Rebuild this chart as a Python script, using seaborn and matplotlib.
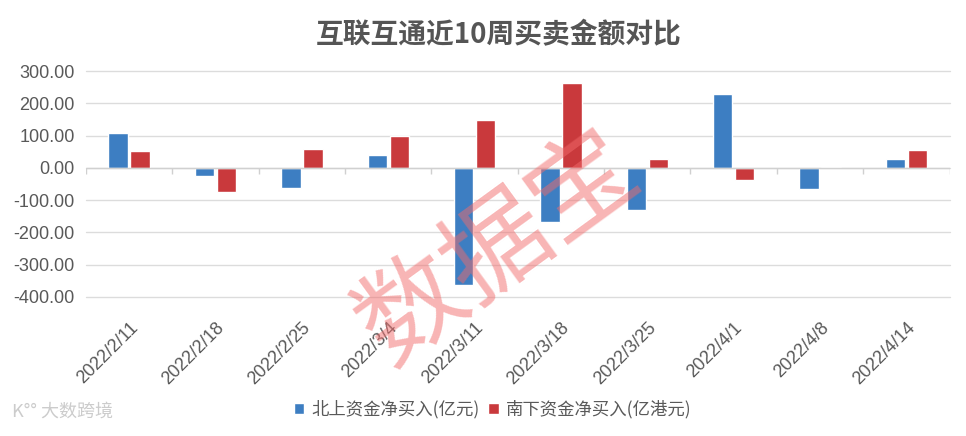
import pandas as pd
import matplotlib.pyplot as plt
import seaborn as sns

# 数据
dates = ['2022/2/11', '2022/2/18', '2022/2/25', '2022/3/4', '2022/3/11',
         '2022/3/18', '2022/3/25', '2022/4/1', '2022/4/8', '2022/4/14']
north = [107, -24, -63, 41, -364, -167, -130, 230, -66, 29]
south = [51, -76, 60, 98, 147, 264, 26, -38, 4, 54]
s_north = '北上资金净买入(亿元)'
s_south = '南下资金净买入(亿港元)'

df = pd.DataFrame({'date': dates * 2,
                   'value': north + south,
                   'series': [s_north] * len(dates) + [s_south] * len(dates)})

sns.set_style('white')
plt.rcParams['font.family'] = ['Noto Sans CJK SC', 'DejaVu Sans']

fig = plt.figure(figsize=(9.66, 4.36), dpi=100)
ax = fig.add_axes([0.089, 0.319, 0.894, 0.518])

sns.barplot(data=df, x='date', y='value', hue='series', order=dates,
            palette=['#3d7ec2', '#c9393c'], width=0.51, gap=0.12,
            saturation=1, ax=ax)

ax.set_ylim(-400, 300)
ax.set_xlim(-0.5, len(dates) - 0.5)
ax.set_yticks(range(-400, 301, 100))
ax.set_yticklabels([f'{v:.2f}' for v in range(-400, 301, 100)],
                   fontsize=13, color='#595959', family='Liberation Sans')
ax.grid(axis='y', color='#dcdcdc', linewidth=1)
for gl in ax.get_ygridlines():
    gl.set_clip_on(False)
ax.set_axisbelow(True)
for s in ax.spines.values():
    s.set_visible(False)
ax.tick_params(axis='y', length=0, pad=8)
ax.tick_params(axis='x', length=0, pad=16)
ax.set_xlabel('')
ax.set_ylabel('')
plt.setp(ax.get_xticklabels(), rotation=45, ha='right', va='top',
         rotation_mode='anchor', fontsize=13, color='#595959',
         family='Liberation Sans')

# 零轴与分类刻度
ax.axhline(0, color='#d0d0d0', linewidth=1, zorder=1)
ax.vlines([i - 0.5 for i in range(len(dates) + 1)], -18, 0,
          color='#d0d0d0', linewidth=1, zorder=1)

ax.set_title('互联互通近10周买卖金额对比', fontsize=20, color='#555555',
             fontweight='bold', pad=20, x=0.478)

sns.move_legend(ax, 'lower center', bbox_to_anchor=(0.51, 0.005),
                bbox_transform=fig.transFigure, ncol=2, frameon=False,
                title=None, fontsize=12.5, handlelength=0.6, handleheight=0.6,
                handletextpad=0.4, columnspacing=0.5)
for t in ax.get_legend().get_texts():
    t.set_color('#595959')

# 水印
fig.text(0.517, 0.43, '数据宝', fontsize=76, color='#f26b6b', alpha=0.5,
         rotation=36, ha='center', va='center', zorder=10)
fig.text(0.012, 0.055, 'K°° 大数跨境', fontsize=13, color='#cccccc',
         ha='left', va='center')

fig.savefig('out.png', dpi=100)
